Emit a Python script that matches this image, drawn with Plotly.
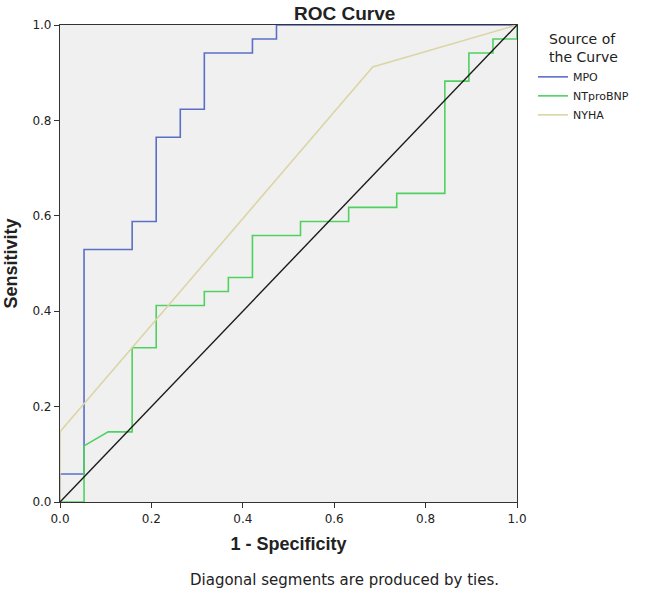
import plotly.graph_objects as go

# ROC curve data (1 - Specificity, Sensitivity)
mpo_fpr = [0.0, 0.0, 0.0526, 0.0526, 0.1579, 0.1579, 0.2105, 0.2105, 0.2632, 0.2632,
           0.3158, 0.3158, 0.4211, 0.4211, 0.4737, 0.4737, 1.0]
mpo_tpr = [0.0, 0.0588, 0.0588, 0.5294, 0.5294, 0.5882, 0.5882, 0.7647, 0.7647, 0.8235,
           0.8235, 0.9412, 0.9412, 0.9706, 0.9706, 1.0, 1.0]

nt_fpr = [0.0, 0.0526, 0.0526, 0.1053, 0.1579, 0.1579, 0.2105, 0.2105, 0.3158, 0.3158,
          0.3684, 0.3684, 0.4211, 0.4211, 0.5263, 0.5263, 0.6316, 0.6316, 0.7368, 0.7368,
          0.8421, 0.8421, 0.8947, 0.8947, 0.9474, 0.9474, 1.0, 1.0]
nt_tpr = [0.0, 0.0, 0.1176, 0.1471, 0.1471, 0.3235, 0.3235, 0.4118, 0.4118, 0.4412,
          0.4412, 0.4706, 0.4706, 0.5588, 0.5588, 0.5882, 0.5882, 0.6176, 0.6176, 0.6471,
          0.6471, 0.8824, 0.8824, 0.9412, 0.9412, 0.9706, 0.9706, 1.0]

nyha_fpr = [0.0, 0.0, 0.6842, 1.0]
nyha_tpr = [0.0, 0.1471, 0.9118, 1.0]

ref_x = [0.0, 1.0]
ref_y = [0.0, 1.0]

tick_vals = [0.0, 0.2, 0.4, 0.6, 0.8, 1.0]
tick_text = ["0.0", "0.2", "0.4", "0.6", "0.8", "1.0"]

fig = go.Figure()
fig.add_trace(go.Scatter(x=mpo_fpr, y=mpo_tpr, mode="lines", name="MPO",
                         line=dict(color="#5a6fc6", width=1.6)))
fig.add_trace(go.Scatter(x=nt_fpr, y=nt_tpr, mode="lines", name="NTproBNP",
                         line=dict(color="#4fd160", width=1.6)))
fig.add_trace(go.Scatter(x=nyha_fpr, y=nyha_tpr, mode="lines", name="NYHA",
                         line=dict(color="#dbd5a6", width=1.6)))
fig.add_trace(go.Scatter(x=ref_x, y=ref_y, mode="lines", showlegend=False,
                         line=dict(color="#1a1a1a", width=1.4)))

axis_common = dict(range=[0, 1], tickvals=tick_vals, ticktext=tick_text,
                   showgrid=False, zeroline=False, showline=True, mirror=True,
                   linecolor="#333333", linewidth=1.2, ticks="outside",
                   ticklen=5, tickcolor="#333333", automargin=False,
                   tickfont=dict(family="DejaVu Sans", size=12, color="#222222"))

fig.update_layout(
    width=646, height=593,
    margin=dict(l=60, r=111, t=25, b=91),
    paper_bgcolor="white", plot_bgcolor="#f0f0f0",
    title=dict(text="<b>ROC Curve</b>", xref="paper", x=0.623, xanchor="center",
               y=0.978, yanchor="middle",
               font=dict(family="Liberation Sans", size=19, color="#222222")),
    xaxis=dict(axis_common, title=dict(text="<b>1 - Specificity</b>", standoff=12,
               font=dict(family="Liberation Sans", size=18, color="#222222"))),
    yaxis=dict(axis_common, title=dict(text="<b>Sensitivity</b>", standoff=10,
               font=dict(family="Liberation Sans", size=18, color="#222222"))),
    legend=dict(x=1.035, y=0.998, xanchor="left", yanchor="top",
                font=dict(family="DejaVu Sans", size=11, color="#222222"),
                title=dict(text="Source of<br>the Curve", side="top center",
                           font=dict(family="DejaVu Sans", size=14, color="#222222")),
                bgcolor="rgba(0,0,0,0)", itemwidth=30, tracegroupgap=0),
    annotations=[dict(text="Diagonal segments are produced by ties.", xref="paper", yref="paper",
                      x=0.623, y=-0.163, xanchor="center", yanchor="middle", showarrow=False,
                      font=dict(family="DejaVu Sans", size=15, color="#222222"))],
)

fig.write_html("out.html", config={"displayModeBar": False},
               post_script="document.body.style.margin='0px';document.body.style.padding='0px';")
